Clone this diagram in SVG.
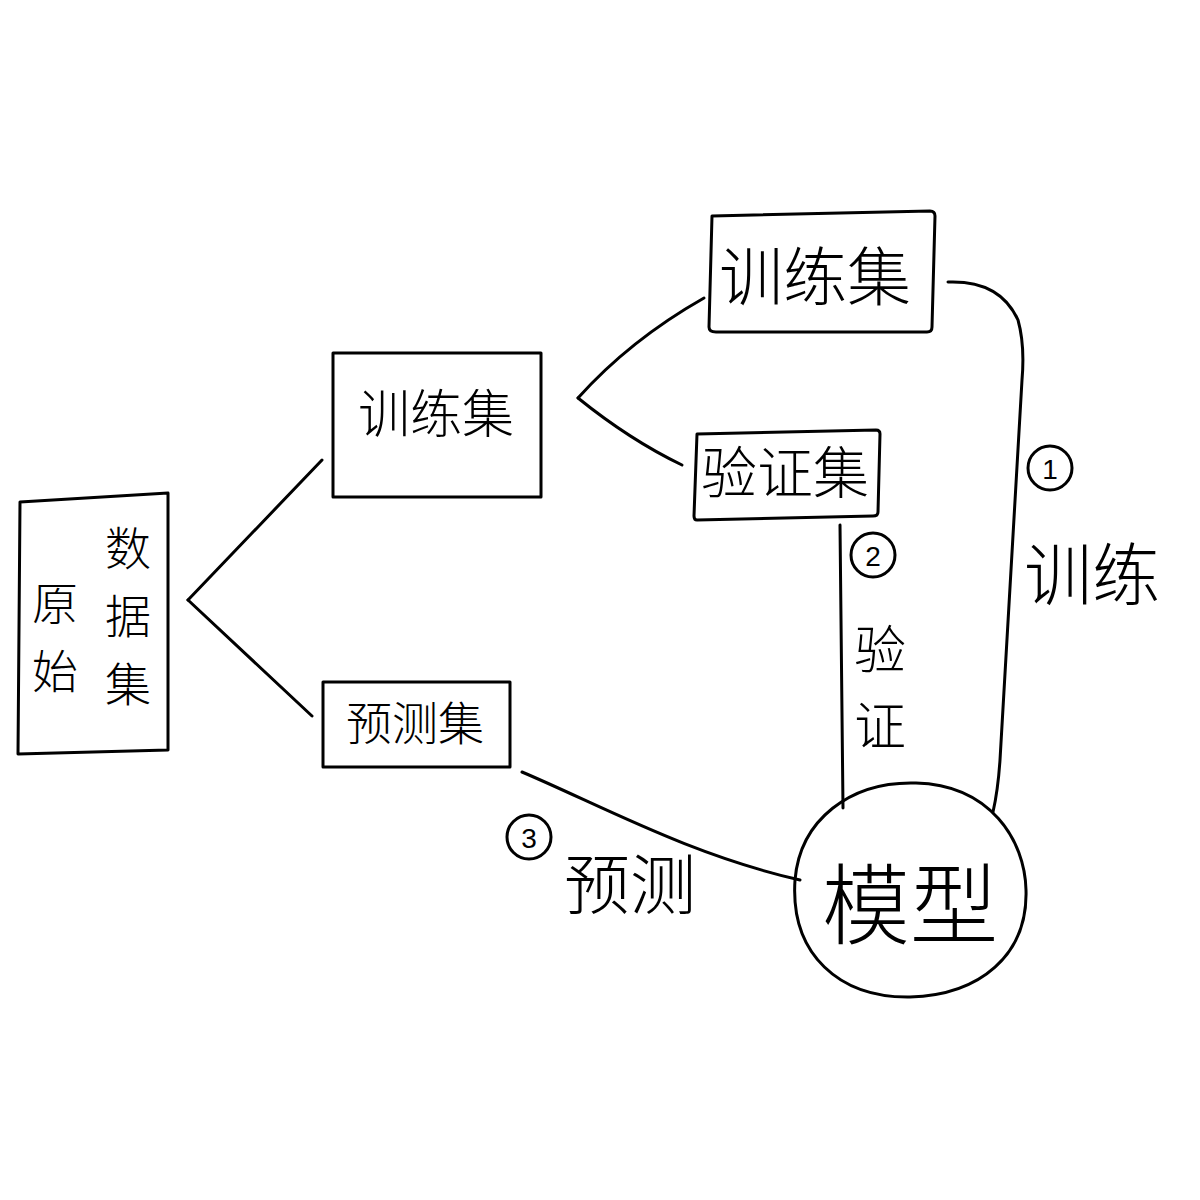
<svg xmlns="http://www.w3.org/2000/svg" width="1200" height="1200" viewBox="0 0 1200 1200">
<style>
.box{fill:none;stroke:#000;stroke-width:3;stroke-linejoin:round}
.ln{fill:none;stroke:#000;stroke-width:3;stroke-linecap:round}
.t{font-family:"Noto Sans CJK SC","Noto Sans CJK JP",sans-serif;font-weight:300;fill:#000;text-anchor:middle;dominant-baseline:central}
.num{font-family:"Liberation Sans",sans-serif;fill:#000;text-anchor:middle;dominant-baseline:central;font-size:28px}
.c{fill:none;stroke:#000;stroke-width:3}
</style>
<rect width="1200" height="1200" fill="#fff"/>
<g id="connectors">
<path class="ln" d="M188,600 L322,460"/>
<path class="ln" d="M188,600 L312,716"/>
<path class="ln" d="M578,398 Q630,340 704,298"/>
<path class="ln" d="M578,398 Q630,440 682,465"/>
<path class="ln" d="M948,282 Q1000,280 1018,320 Q1025,345 1022,380 L1000,760 Q998,790 993,812"/>
<path class="ln" d="M840,525 L843,808"/>
<path class="ln" d="M522,772 C600,805 690,855 800,880"/>
</g>
<g id="raw-dataset">
<path class="box" d="M20,502 L168,493 L168,750 L18,754 Z"/>
<text class="t" x="55" y="600" font-size="46">原</text>
<text class="t" x="55" y="668" font-size="46">始</text>
<text class="t" x="128" y="545" font-size="46">数</text>
<text class="t" x="128" y="613" font-size="46">据</text>
<text class="t" x="128" y="681" font-size="46">集</text>
</g>
<g id="train-set-1">
<rect class="box" x="333" y="353" width="208" height="144"/>
<text class="t" x="436" y="410" font-size="52">训练集</text>
</g>
<g id="predict-set">
<rect class="box" x="323" y="682" width="187" height="85"/>
<text class="t" x="415" y="720" font-size="46">预测集</text>
</g>
<g id="train-set-2">
<path class="box" d="M712,216 L930,211 Q935,211 935,216 L932,327 Q932,332 927,332 L716,332 Q709,332 709,327 Z"/>
<text class="t" x="815" y="272" font-size="64">训练集</text>
</g>
<g id="validation-set">
<path class="box" d="M697,434 L876,430 Q880,430 880,434 L878,512 Q878,516 873,516 L697,520 Q694,520 694,516 Z"/>
<text class="t" x="785" y="468" font-size="56">验证集</text>
</g>
<g id="model">
<path class="box" d="M916,783 C990,785 1025,840 1026,890 C1028,955 980,995 910,997 C840,998 790,955 795,880 C800,820 850,781 916,783 Z"/>
<text class="t" x="910" y="898" font-size="88">模型</text>
</g>
<g id="label-train">
<circle class="c" cx="1050" cy="468" r="22"/>
<text class="num" x="1050" y="469">1</text>
<text class="t" x="1092" y="570" font-size="68">训练</text>
</g>
<g id="label-validate">
<circle class="c" cx="873" cy="555" r="22"/>
<text class="num" x="873" y="556">2</text>
<text class="t" x="880" y="646" font-size="52">验</text>
<text class="t" x="880" y="722" font-size="52">证</text>
</g>
<g id="label-predict">
<circle class="c" cx="529" cy="837" r="22"/>
<text class="num" x="529" y="838">3</text>
<text class="t" x="630" y="880" font-size="66">预测</text>
</g>
</svg>
